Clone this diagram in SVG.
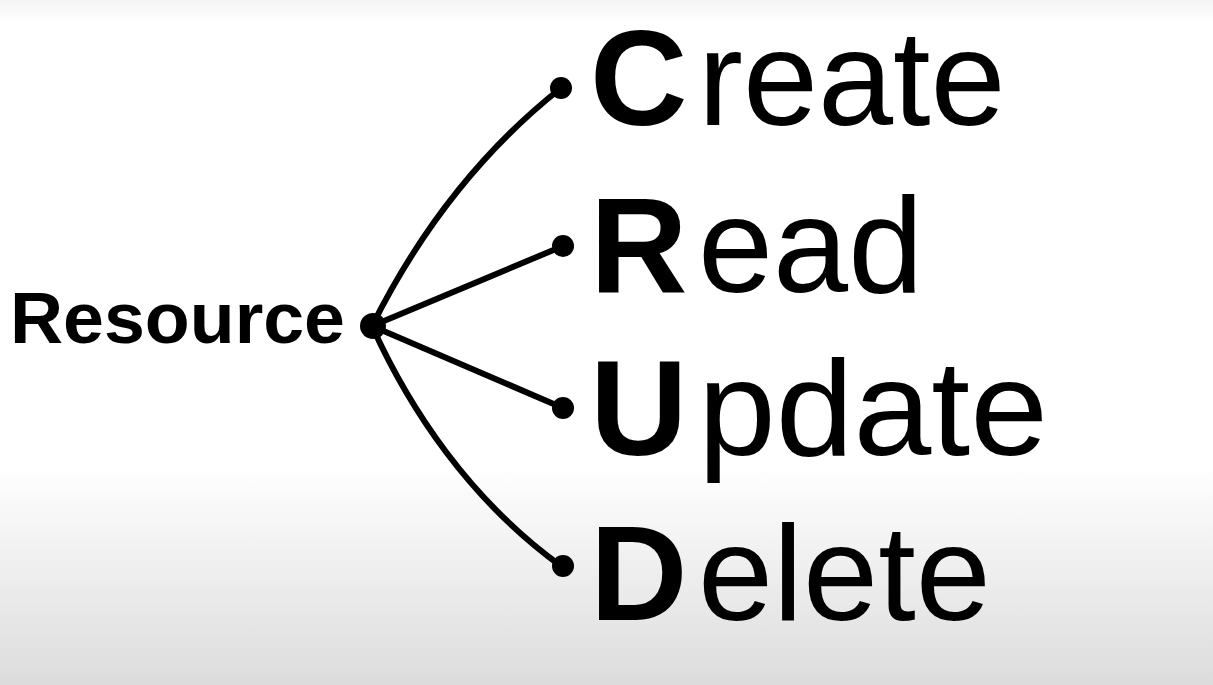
<svg xmlns="http://www.w3.org/2000/svg" width="1213" height="685" viewBox="0 0 1213 685">
<defs>
<linearGradient id="bg" x1="0" y1="0" x2="0" y2="1">
<stop offset="0" stop-color="#f4f4f4"/>
<stop offset="0.03" stop-color="#ffffff"/>
<stop offset="0.68" stop-color="#ffffff"/>
<stop offset="1" stop-color="#dcdcdc"/>
</linearGradient>
<style>
.ln{fill:none;stroke:#000;stroke-width:6;stroke-linecap:round}
.dot{fill:#000}
.big{font-family:"Liberation Sans",Arial,sans-serif;font-size:135px;fill:#000}
.b{font-weight:bold}
.res{font-family:"Liberation Sans",Arial,sans-serif;font-size:73px;font-weight:bold;fill:#000}
</style>
</defs>
<rect width="1213" height="685" fill="url(#bg)"/>
<g id="connectors">
<path class="ln" d="M372,326 C410,250 470,160 561,88"/>
<path class="ln" d="M372,326 L563,246"/>
<path class="ln" d="M372,326 L563,408"/>
<path class="ln" d="M372,326 C410,410 470,500 561,566"/>
<circle class="dot" cx="561" cy="88" r="11"/>
<circle class="dot" cx="563" cy="246" r="11"/>
<circle class="dot" cx="563" cy="408" r="11"/>
<circle class="dot" cx="563" cy="566" r="11"/>
</g>
<g id="resource">
<text class="res" x="10" y="343" textLength="335" lengthAdjust="spacingAndGlyphs">Resource</text>
<circle class="dot" cx="373" cy="326" r="13"/>
</g>
<g id="create">
<text class="big b" x="590" y="125">C</text>
<text class="big" x="698" y="125">reate</text>
</g>
<g id="read">
<text class="big b" x="590" y="292">R</text>
<text class="big" x="698" y="292">ead</text>
</g>
<g id="update">
<text class="big b" x="590" y="455">U</text>
<text class="big" x="698" y="455" textLength="350" lengthAdjust="spacingAndGlyphs">pdate</text>
</g>
<g id="delete">
<text class="big b" x="590" y="620">D</text>
<text class="big" x="698" y="620">elete</text>
</g>
</svg>
